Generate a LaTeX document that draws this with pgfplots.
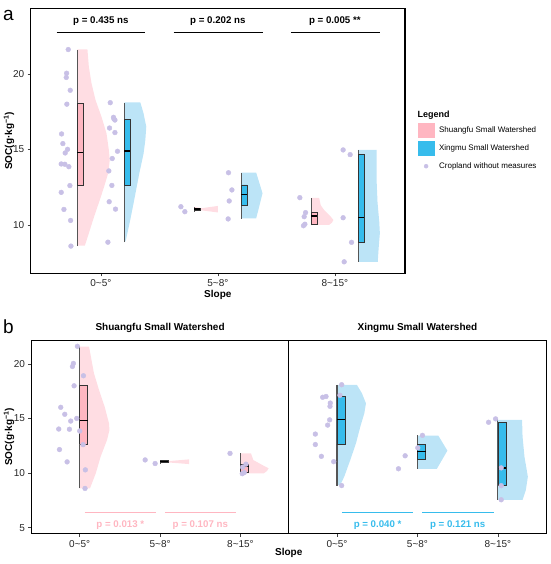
\documentclass[border=0pt]{standalone}
\usepackage{fontspec}
\setmainfont{Liberation Sans}
\usepackage{pgfplots}
\pgfplotsset{compat=1.18}
\definecolor{pinkbox}{RGB}{255,182,193}
\definecolor{pinkvio}{RGB}{255,221,227}
\definecolor{bluebox}{RGB}{55,188,236}
\definecolor{bluevio}{RGB}{188,228,247}
\definecolor{ptcol}{RGB}{200,192,230}
\definecolor{whiskcol}{RGB}{85,85,85}
\pgfplotsset{
  common/.style={scale only axis, xmin=0.4, xmax=3.6, xtick={1,2,3},
    xticklabels={0\textasciitilde5°,5\textasciitilde8°,8\textasciitilde15°},
    tick align=outside, major tick length=3pt, tick pos=left,
    tick style={black!75, line width=0.6pt},
    axis line style={line width=1.1pt},
    ticklabel style={font=\fontsize{10}{12}\selectfont, text=black!85},
    /pgf/number format/assume math mode=true,
    label style={font=\bfseries\fontsize{10}{12}\selectfont}},
  whisk/.style={draw=whiskcol, line width=1.1pt},
  boxp/.style={fill=pinkbox, draw=black!80, line width=0.7pt},
  boxb/.style={fill=bluebox, draw=black!80, line width=0.7pt},
  med/.style={black, line width=1.3pt},
  pts/.style={color=ptcol, only marks, mark=*, mark size=2.4pt, mark options={draw=ptcol, fill=ptcol}},
  viop/.style={draw=none, fill=pinkvio},
  viob/.style={draw=none, fill=bluevio},
}
\begin{document}
\begin{tikzpicture}
\useasboundingbox (0pt,0pt) rectangle (550pt,564pt);
\node[anchor=base west, inner sep=0pt, font=\fontsize{19}{19}\selectfont] at (3pt,543.5pt) {a};
\node[anchor=base west, inner sep=0pt, font=\fontsize{19}{19}\selectfont] at (3pt,230.5pt) {b};
% ---------------- panel a ----------------
\begin{axis}[common, at={(30.7pt,290.7pt)}, anchor=south west, width=374.3pt, height=265pt,
  ymin=6.80, ymax=24.35, ytick={10,15,20},
  xlabel={Slope}, ylabel={SOC(g·kg\textsuperscript{−1})},
  xlabel style={at={(axis description cs:0.5,-0.082)}, anchor=center},
  ylabel style={at={(axis description cs:-0.058,0.5)}, anchor=center},
  legend style={at={(axis description cs:1.0329,0.5683)}, anchor=north west, draw=none, fill=none,
    font=\fontsize{8}{9.6}\selectfont, inner sep=0pt, row sep=3pt, column sep=4.5pt,
    nodes={inner sep=0pt}},
  legend cell align=left]
\addlegendimage{legend image code/.code={\fill[pinkbox] (0pt,-7.3pt) rectangle (16.7pt,7.3pt);}}
\addlegendentry{Shuangfu Small Watershed}
\addlegendimage{legend image code/.code={\fill[bluebox] (0pt,-7.3pt) rectangle (16.7pt,7.3pt);}}
\addlegendentry{Xingmu Small Watershed}
\addlegendimage{legend image code/.code={\path[draw=none,fill=none] (0pt,-7.3pt) rectangle (16.7pt,7.3pt); \fill[ptcol] (8.4pt,0pt) circle (2pt);}}
\addlegendentry{Cropland without measures}
% violins
\addplot[viop] coordinates {(0.8,21.63) (0.885,21.63) (0.897,20.49) (0.92,19.38) (0.954,18.28) (1.005,17.17) (1.048,16.07) (1.068,14.97) (1.076,14.30) (1.062,13.42) (1.028,12.54) (0.991,11.66) (0.942,10.55) (0.897,9.45) (0.863,8.63) (0.8,8.63)};
\addplot[viob] coordinates {(1.2,18.12) (1.337,18.12) (1.365,17.39) (1.388,16.5) (1.38,15.62) (1.365,14.73) (1.328,13.4) (1.285,11.66) (1.251,10.33) (1.214,9.0) (1.205,8.87) (1.2,8.87)};
\addplot[viop] coordinates {(1.8,10.9) (1.85,10.98) (2.0,10.83) (2.0,11.26) (1.85,11.1) (1.8,11.2)};
\addplot[viob] coordinates {(2.2,13.46) (2.328,13.46) (2.382,12.1) (2.328,10.44) (2.2,10.44)};
\addplot[viop] coordinates {(2.8,11.8) (2.866,11.8) (2.88,11.3) (2.908,11.0) (2.965,10.55) (2.988,10.33) (2.975,10.15) (2.95,10.0) (2.8,10.0)};
\addplot[viob] coordinates {(3.2,14.97) (3.357,14.97) (3.357,13.0) (3.365,11.5) (3.38,10.2) (3.385,9.45) (3.375,8.5) (3.367,7.56) (3.2,7.56)};
% boxes
\addplot[whisk] coordinates {(0.8,8.60) (0.8,21.62)};
\addplot[boxp] coordinates {(0.8,12.63) (0.85,12.63) (0.85,18.03) (0.8,18.03) (0.8,12.63)};
\addplot[med] coordinates {(0.8,14.79) (0.85,14.79)};
\addplot[whisk] coordinates {(1.2,8.86) (1.2,18.1)};
\addplot[boxb] coordinates {(1.2,12.65) (1.25,12.65) (1.25,17.0) (1.2,17.0) (1.2,12.65)};
\addplot[med] coordinates {(1.2,14.9) (1.25,14.9)};
\addplot[whisk] coordinates {(1.8,10.88) (1.8,11.21)};
\addplot[boxp] coordinates {(1.8,10.96) (1.85,10.96) (1.85,11.13) (1.8,11.13) (1.8,10.96)};
\addplot[med] coordinates {(1.8,11.05) (1.85,11.05)};
\addplot[whisk] coordinates {(2.2,10.40) (2.2,13.46)};
\addplot[boxb] coordinates {(2.2,11.30) (2.25,11.30) (2.25,12.65) (2.2,12.65) (2.2,11.30)};
\addplot[med] coordinates {(2.2,12.0) (2.25,12.0)};
\addplot[whisk] coordinates {(2.8,9.98) (2.8,11.81)};
\addplot[boxp] coordinates {(2.8,10.05) (2.85,10.05) (2.85,10.82) (2.8,10.82) (2.8,10.05)};
\addplot[med] coordinates {(2.8,10.6) (2.85,10.6)};
\addplot[whisk] coordinates {(3.2,7.56) (3.2,14.97)};
\addplot[boxb] coordinates {(3.2,8.85) (3.25,8.85) (3.25,14.68) (3.2,14.68) (3.2,8.85)};
\addplot[med] coordinates {(3.2,10.48) (3.25,10.48)};
% points
\addplot[pts] coordinates {(0.721,21.62) (0.707,20.05) (0.704,19.77) (0.738,18.92) (0.709,18.0) (0.664,16.03) (0.675,15.39) (0.715,15.01) (0.695,14.77) (0.661,14.04) (0.692,14.02) (0.726,13.86) (0.735,12.61) (0.661,12.16) (0.684,11.03) (0.741,10.30) (0.744,8.60)};
\addplot[pts] coordinates {(1.080,18.1) (1.108,17.13) (1.112,17.02) (1.120,16.95) (1.074,16.42) (1.120,16.12) (1.142,14.88) (1.097,14.4) (1.068,13.58) (1.094,12.62) (1.071,11.54) (1.125,11.05) (1.060,8.86)};
\addplot[pts] coordinates {(1.684,11.21) (1.718,10.88)};
\addplot[pts] coordinates {(2.091,13.46) (2.120,12.32) (2.097,11.59) (2.088,10.40)};
\addplot[pts] coordinates {(2.701,11.81) (2.75,10.82) (2.738,10.55) (2.744,10.05) (2.732,9.95)};
\addplot[pts] coordinates {(3.071,14.97) (3.131,14.66) (3.071,10.48) (3.143,8.85) (3.080,7.56)};
% p-values
\addplot[black, line width=0.9pt] coordinates {(0.621,22.74) (1.379,22.74)};
\addplot[black, line width=0.9pt] coordinates {(1.621,22.74) (2.382,22.74)};
\addplot[black, line width=0.9pt] coordinates {(2.624,22.74) (3.385,22.74)};
\node[font=\bfseries\fontsize{9.7}{11}\selectfont] at (axis cs:1,23.53) {p = 0.435 ns};
\node[font=\bfseries\fontsize{9.7}{11}\selectfont] at (axis cs:2,23.53) {p = 0.202 ns};
\node[font=\bfseries\fontsize{9.7}{11}\selectfont] at (axis cs:3,23.53) {p = 0.005 **};
\end{axis}
\node[anchor=west, inner sep=0pt, font=\bfseries\fontsize{9}{10}\selectfont] at (417.3pt,449pt) {Legend};
% ---------------- panel b left ----------------
\begin{axis}[common, at={(31.5pt,30.5pt)}, anchor=south west, width=257.2pt, height=193pt,
  ymin=4.47, ymax=22.15, ytick={5,10,15,20},
  xlabel={Slope}, ylabel={SOC(g·kg\textsuperscript{−1})},
  xlabel style={at={(axis description cs:1,-0.1026)}, anchor=center},
  ylabel style={at={(axis description cs:-0.0875,0.5)}, anchor=center},
  title={Shuangfu Small Watershed},
  title style={font=\bfseries\fontsize{10}{12}\selectfont, at={(axis description cs:0.5,1)}, anchor=base, yshift=4.2pt}]
\addplot[viop] coordinates {(1,21.59) (1.116,21.59) (1.177,19.15) (1.24,17.62) (1.31,16.09) (1.364,14.57) (1.37,13.95) (1.34,13.04) (1.26,11.51) (1.2,9.99) (1.128,8.61) (1,8.61)};
\addplot[viop] coordinates {(2,10.9) (2.1,10.98) (2.36,10.83) (2.36,11.26) (2.1,11.1) (2,11.2)};
\addplot[viop] coordinates {(3,11.82) (3.13,11.82) (3.16,11.2) (3.27,10.75) (3.35,10.44) (3.33,10.2) (3.29,9.98) (3,9.98)};
\addplot[whisk] coordinates {(1,8.60) (1,21.62)};
\addplot[boxp] coordinates {(1,12.63) (1.1,12.63) (1.1,18.03) (1,18.03) (1,12.63)};
\addplot[med] coordinates {(1,14.79) (1.1,14.79)};
\addplot[whisk] coordinates {(2,10.88) (2,11.21)};
\addplot[boxp] coordinates {(2,10.96) (2.1,10.96) (2.1,11.13) (2,11.13) (2,10.96)};
\addplot[med] coordinates {(2,11.05) (2.1,11.05)};
\addplot[whisk] coordinates {(3,9.98) (3,11.81)};
\addplot[boxp] coordinates {(3,10.05) (3.1,10.05) (3.1,10.82) (3,10.82) (3,10.05)};
\addplot[med] coordinates {(3,10.6) (3.1,10.6)};
\addplot[pts] coordinates {(0.971,21.62) (0.921,20.05) (0.909,19.77) (1.046,18.92) (0.930,18.0) (0.764,16.03) (0.814,15.39) (0.963,15.01) (0.888,14.77) (0.739,14.04) (0.872,14.02) (1.0,13.86) (1.042,12.61) (0.748,12.16) (0.843,11.03) (1.070,10.30) (1.066,8.60)};
\addplot[pts] coordinates {(1.814,11.21) (1.938,10.88)};
\addplot[pts] coordinates {(2.87,11.81) (3.068,10.82) (3.027,10.55) (3.047,10.05) (3.022,9.95)};
\addplot[pinkbox, line width=1pt] coordinates {(1.06,6.35) (1.95,6.35)};
\addplot[pinkbox, line width=1pt] coordinates {(2.06,6.35) (2.95,6.35)};
\node[text=pinkbox, font=\bfseries\fontsize{9.7}{11}\selectfont] at (axis cs:1.505,5.21) {p = 0.013 *};
\node[text=pinkbox, font=\bfseries\fontsize{9.7}{11}\selectfont] at (axis cs:2.5,5.21) {p = 0.107 ns};
\end{axis}
% ---------------- panel b right ----------------
\begin{axis}[common, at={(288.7pt,30.5pt)}, anchor=south west, width=257.5pt, height=193pt,
  ymin=4.47, ymax=22.15, ytick=\empty,
  title={Xingmu Small Watershed},
  title style={font=\bfseries\fontsize{10}{12}\selectfont, at={(axis description cs:0.5,1)}, anchor=base, yshift=4.2pt}]
\addplot[viob] coordinates {(1,18.08) (1.248,18.08) (1.31,17.32) (1.36,16.4) (1.34,15.49) (1.29,14.26) (1.236,12.73) (1.165,11.2) (1.09,9.67) (1.04,8.91) (1,8.91)};
\addplot[viob] coordinates {(2,13.43) (2.26,13.43) (2.372,12.06) (2.24,10.38) (2,10.38)};
\addplot[viob] coordinates {(3,14.87) (3.3,14.87) (3.306,13.34) (3.33,11.5) (3.372,9.67) (3.347,8.46) (3.306,7.54) (3,7.54)};
\addplot[whisk] coordinates {(1,8.86) (1,18.1)};
\addplot[boxb] coordinates {(1,12.65) (1.1,12.65) (1.1,17.0) (1,17.0) (1,12.65)};
\addplot[med] coordinates {(1,14.9) (1.1,14.9)};
\addplot[whisk] coordinates {(2,10.40) (2,13.46)};
\addplot[boxb] coordinates {(2,11.30) (2.1,11.30) (2.1,12.65) (2,12.65) (2,11.30)};
\addplot[med] coordinates {(2,12.0) (2.1,12.0)};
\addplot[whisk] coordinates {(3,7.56) (3,14.97)};
\addplot[boxb] coordinates {(3,8.85) (3.1,8.85) (3.1,14.68) (3,14.68) (3,8.85)};
\addplot[med] coordinates {(3,10.48) (3.1,10.48)};
\addplot[pts] coordinates {(1.058,18.1) (1.037,17.13) (0.864,17.02) (0.822,16.95) (0.917,16.42) (0.913,16.12) (0.909,14.88) (0.884,14.4) (0.731,13.58) (0.731,12.62) (0.806,11.54) (0.959,11.05) (1.058,8.86)};
\addplot[pts] coordinates {(2.062,13.46) (2.004,12.32) (1.847,11.59) (1.764,10.40)};
\addplot[pts] coordinates {(2.884,14.66) (2.971,14.97) (3.041,10.48) (3.041,8.85) (3.041,7.56)};
\addplot[bluebox, line width=1pt] coordinates {(1.06,6.35) (1.95,6.35)};
\addplot[bluebox, line width=1pt] coordinates {(2.06,6.35) (2.95,6.35)};
\node[text=bluebox, font=\bfseries\fontsize{9.7}{11}\selectfont] at (axis cs:1.505,5.21) {p = 0.040 *};
\node[text=bluebox, font=\bfseries\fontsize{9.7}{11}\selectfont] at (axis cs:2.5,5.21) {p = 0.121 ns};
\end{axis}
\end{tikzpicture}
\end{document}
